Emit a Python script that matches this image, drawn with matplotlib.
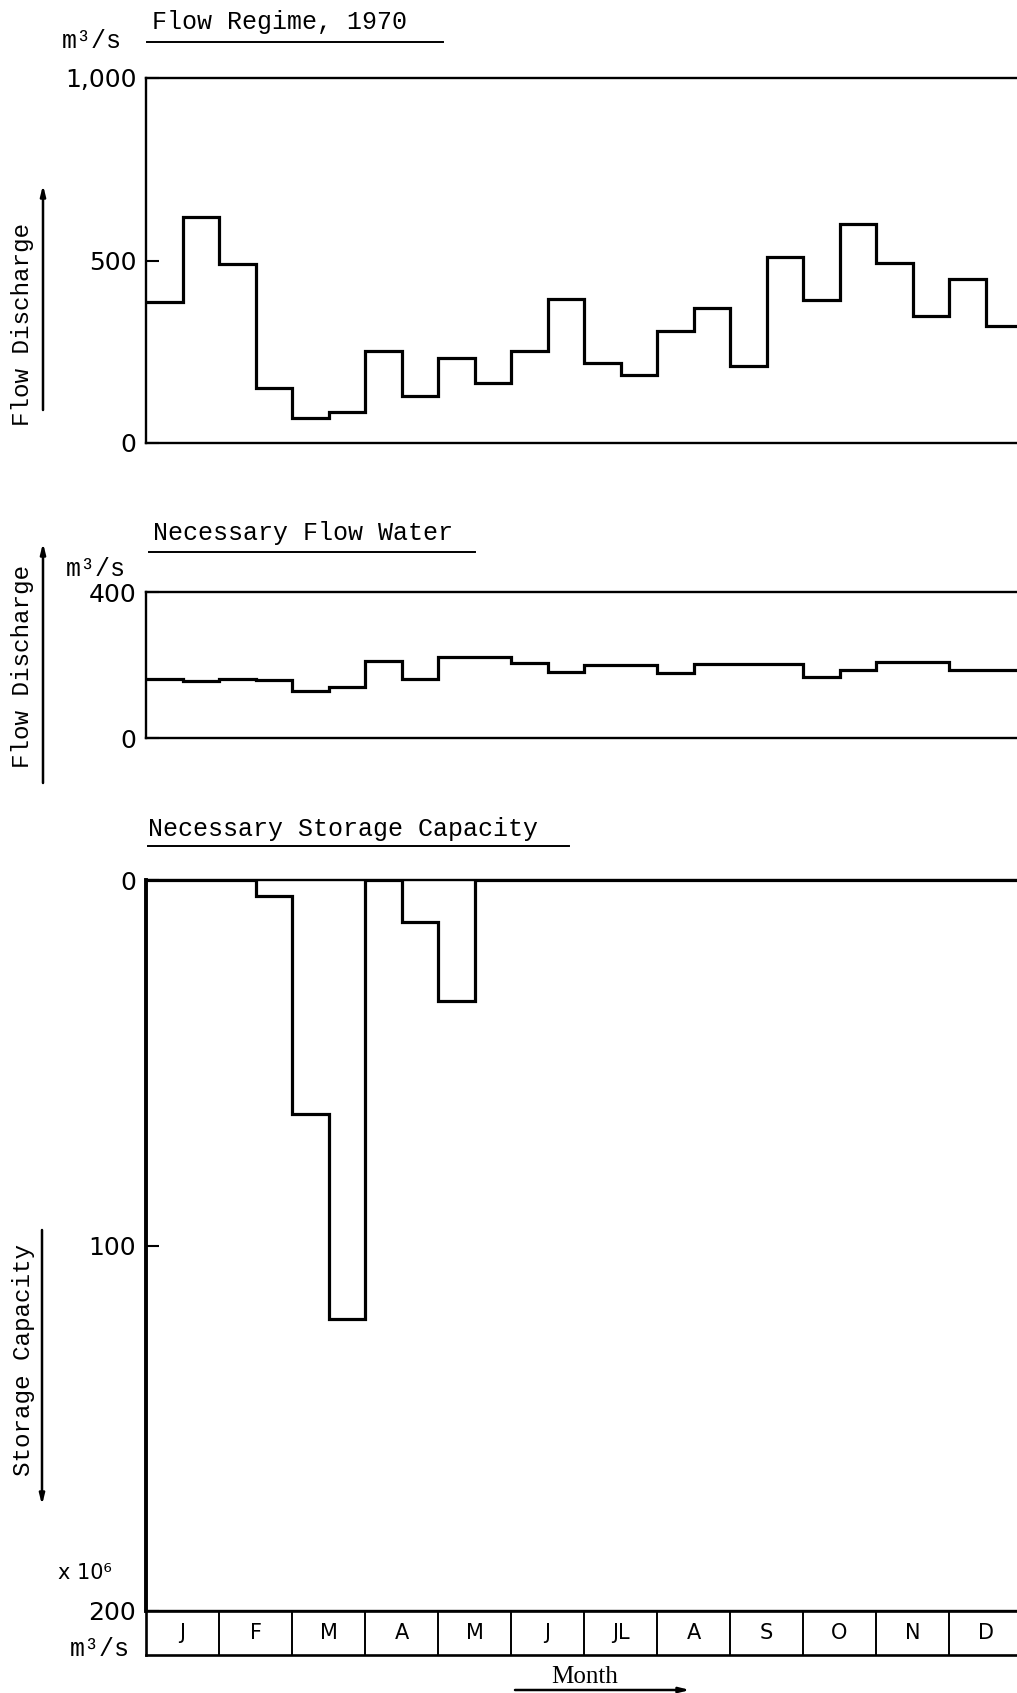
import numpy as np
import matplotlib
matplotlib.use('Agg')
import matplotlib.pyplot as plt
from matplotlib.lines import Line2D

# half-month values, 1970
flow_regime = [387, 618, 490, 150, 69, 86, 252, 129, 232, 164, 252, 394,
               219, 185, 307, 371, 211, 510, 392, 599, 492, 348, 450, 321]
necessary_flow = [162, 155, 163, 158, 128, 141, 210, 162, 222, 222, 205, 182,
                  201, 201, 178, 204, 204, 204, 166, 185, 207, 207, 187, 187]
storage_capacity = [0, 0, 0, 4.5, 64, 120, 0, 11.6, 33.2, 0, 0, 0,
                    0, 0, 0, 0, 0, 0, 0, 0, 0, 0, 0, 0]
months = ['J', 'F', 'M', 'A', 'M', 'J', 'JL', 'A', 'S', 'O', 'N', 'D']

flow_ticks = [0, 500, 1000]
flow_ticklabels = ['0', '500', '1,000']
need_ticks = [0, 400]
storage_ticks = [0, 100, 200]

W, H = 1017, 1693
MONO = 'Liberation Mono'
SANS = 'DejaVu Sans'


def fx(x):
    return x / W


def fy(y):
    return 1 - y / H


def make_axes(fig, top, bottom):
    ax = fig.add_axes([fx(146), fy(bottom), fx(876), (bottom - top) / H])
    ax.set_xlim(0, 12)
    ax.set_xticks([])
    ax.spines['right'].set_visible(False)
    for s in ('left', 'top', 'bottom'):
        ax.spines[s].set_linewidth(1.7)
    ax.tick_params(axis='y', direction='in', length=9, width=1.5, pad=7,
                   labelsize=18)
    return ax


def title(fig, text, x, y, x0, x1, yline):
    fig.text(fx(x), fy(y), text, family=MONO, fontsize=18, va='baseline')
    fig.add_artist(Line2D([fx(x0), fx(x1)], [fy(yline), fy(yline)],
                          color='black', lw=1.4))


def arrow(fig, x0, y0, x1, y1):
    fig.add_artist(plt.Annotation(
        '', xy=(fx(x1), fy(y1)), xytext=(fx(x0), fy(y0)),
        xycoords='figure fraction', textcoords='figure fraction',
        arrowprops=dict(arrowstyle='-|>,head_length=0.6,head_width=0.15',
                        color='black', lw=1.8, shrinkA=0, shrinkB=0)))


def side_label(fig, text, x, yc, xa, ya0, ya1):
    fig.text(fx(x), fy(yc), text, family=MONO, fontsize=17.5, rotation=90,
             ha='center', va='center')
    arrow(fig, xa, ya0, xa, ya1)


def main():
    fig = plt.figure(figsize=(W / 100, H / 100), dpi=100)
    edges = np.arange(len(flow_regime) + 1) / 2

    # Flow regime
    ax1 = make_axes(fig, 78, 443)
    ax1.stairs(flow_regime, edges, baseline=None, color='black', lw=2.3)
    ax1.set_ylim(0, 1000)
    ax1.set_yticks(flow_ticks)
    ax1.set_yticklabels(flow_ticklabels, family=SANS)
    title(fig, 'Flow Regime, 1970', 152, 29, 147, 443, 42)
    fig.text(fx(62), fy(48), 'm³/s', family=MONO, fontsize=18, va='baseline')
    side_label(fig, 'Flow Discharge', 23, 325, 43, 410, 185)

    # Necessary flow water
    ax2 = make_axes(fig, 592, 738)
    ax2.stairs(necessary_flow, edges, baseline=None, color='black', lw=2.3)
    ax2.set_ylim(0, 400)
    ax2.set_yticks(need_ticks)
    ax2.set_yticklabels([str(t) for t in need_ticks], family=SANS)
    title(fig, 'Necessary Flow Water', 153, 540, 149, 475, 552)
    fig.text(fx(66), fy(576), 'm³/s', family=MONO, fontsize=18, va='baseline')
    side_label(fig, 'Flow Discharge', 23, 667, 43, 783, 543)

    # Necessary storage capacity
    ax3 = make_axes(fig, 880, 1611)
    ax3.stairs(storage_capacity, edges, baseline=0, color='black', lw=2.3)
    ax3.set_ylim(200, 0)
    ax3.set_yticks(storage_ticks)
    ax3.set_yticklabels([str(t) for t in storage_ticks], family=SANS)
    ax3.spines['left'].set_linewidth(2.8)
    title(fig, 'Necessary Storage Capacity', 148, 836, 148, 569, 846)
    fig.text(fx(58), fy(1573), 'x 10⁶', family=SANS, fontsize=15, va='center')
    fig.text(fx(70), fy(1656), 'm³/s', family=MONO, fontsize=18, va='baseline')
    side_label(fig, 'Storage Capacity', 24, 1360, 42, 1230, 1505)

    # month strip
    axm = fig.add_axes([fx(146), fy(1655), fx(876), 44 / H])
    axm.set_xlim(0, 12)
    axm.set_ylim(0, 1)
    axm.set_xticks([])
    axm.set_yticks([])
    axm.spines['right'].set_visible(False)
    for s in ('left', 'top', 'bottom'):
        axm.spines[s].set_linewidth(1.9)
    axm.vlines(np.arange(1, len(months)), 0, 1, color='black', lw=1.4)
    for i, m in enumerate(months):
        axm.text(i + 0.5, 0.5, m, ha='center', va='center', fontsize=15,
                 family=SANS)

    fig.text(fx(585), fy(1677), 'Month', family='Liberation Serif',
             fontsize=18, ha='center', va='center')
    arrow(fig, 515, 1690, 690, 1690)

    fig.savefig('out.png', dpi=100, facecolor='white')


if __name__ == "__main__":
    main()
